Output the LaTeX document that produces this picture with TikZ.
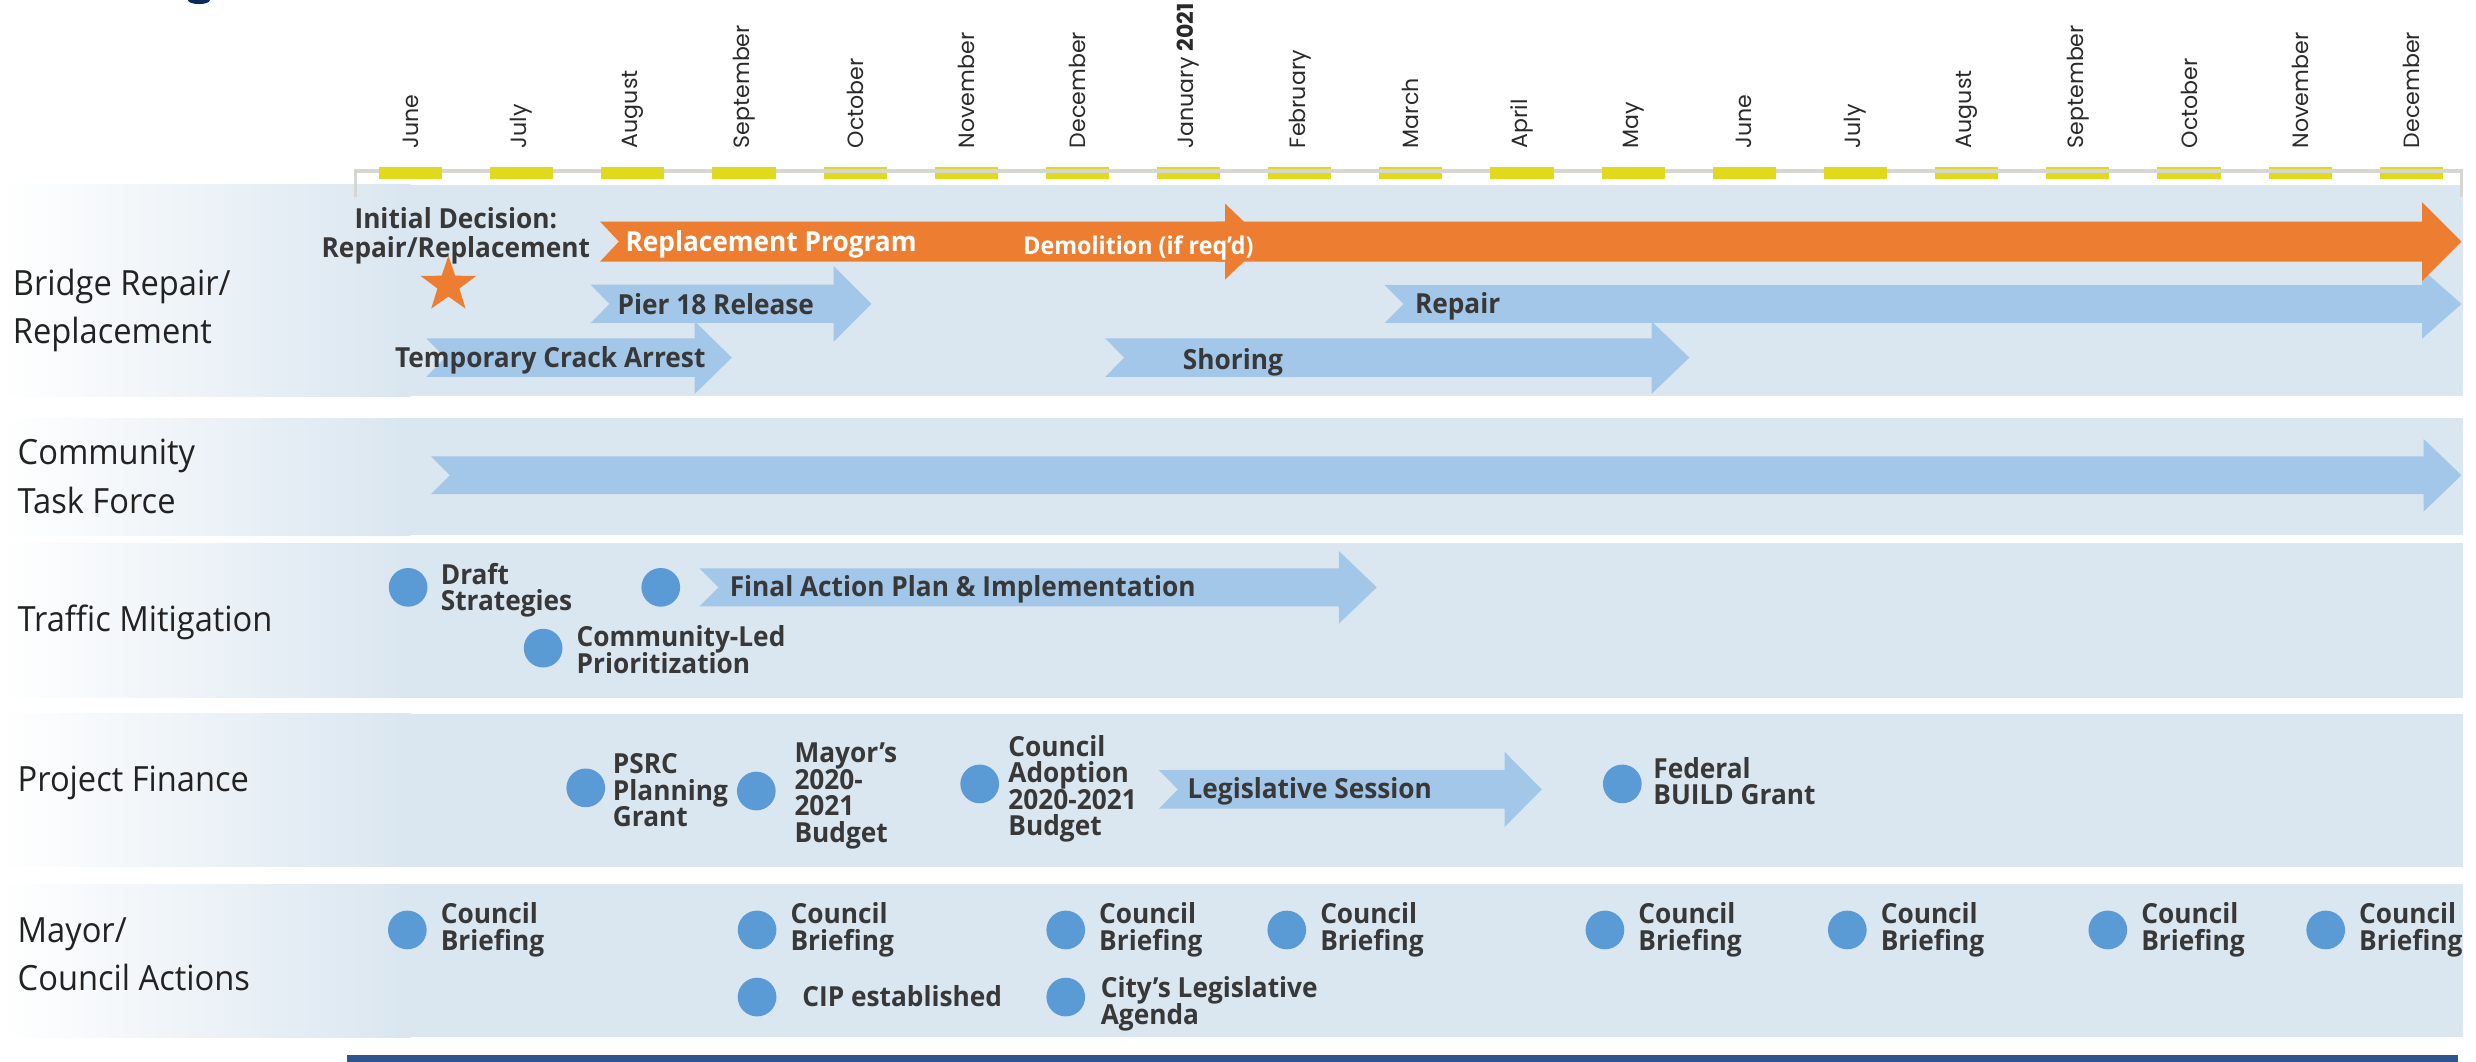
\documentclass[tikz,border=0pt]{standalone}
\usepackage{fontspec}
\setmainfont{Open Sans}
\newfontfamily\rowfont[FakeStretch=0.94]{Open Sans}
\newfontfamily\boldfont[FakeStretch=0.95]{Open Sans}
\newfontfamily\monthfont{Poppins}
\definecolor{panel}{HTML}{DAE6F0}
\definecolor{tlgrey}{HTML}{D6D6D2}
\definecolor{tlyellow}{HTML}{E1D91C}
\definecolor{arrowblue}{HTML}{A3C7E8}
\definecolor{arroworange}{HTML}{ED7D31}
\definecolor{dotblue}{HTML}{5B9BD5}
\definecolor{lbltext}{HTML}{383838}
\definecolor{rowtext}{HTML}{222222}
\definecolor{monthtext}{HTML}{2A2A2A}
\definecolor{barnavy}{HTML}{2F5590}
\definecolor{titlenavy}{HTML}{0B2A5B}
\newcommand\tline[1]{\hbox{#1}}
\newcommand\tstack[1]{\vtop{\lineskiplimit=-100pt\relax #1}}
\newcommand\ctline[1]{\hbox to 0pt{\hss#1\hss}}
% color, xtail, notch, xbase, xtip, ycenter, bodyhalf, headhalf
\newcommand\tlarrow[8]{\fill[#1] (#2,#6-#7) -- (#4,#6-#7) -- (#4,#6-#8) -- (#5,#6) -- (#4,#6+#8) -- (#4,#6+#7) -- (#2,#6+#7) -- (#2+#3,#6) -- cycle;}
\begin{document}
\begin{tikzpicture}[x=1pt,y=-1pt,
  rowlabel/.style={anchor=base west, inner sep=0, text=rowtext,
    font=\rowfont\fontsize{22}{30.5}\selectfont},
  lbl/.style={anchor=base west, inner sep=0, text=lbltext,
    font=\boldfont\bfseries\fontsize{17.5}{16.8}\selectfont},
  wlbl/.style={lbl, text=white},
  dot/.style={circle, fill=dotblue, minimum size=24.5, inner sep=0},
  month/.style={rotate=90, anchor=west, inner sep=0, text=monthtext,
    font=\monthfont\fontsize{14}{14}\selectfont}]
\useasboundingbox (0,0) rectangle (1568.2,672);

% title fragment
\fill[titlenavy] (126,0) ellipse [x radius=7, y radius=2.6];

% panels
\foreach \t/\b in {117/251, 265/339, 344/442, 452/549, 560/657} {
  \shade[left color=white, right color=panel] (0,\t) rectangle (260,\b);
  \fill[panel] (259.5,\t) rectangle (1560,\b);
}
% bottom bar
\fill[barnavy] (220,668) rectangle (1557,673);

% timeline
\foreach \i in {4,...,9,14,15,16,17,18}
  \fill[tlyellow] ({260+70.4*\i-20},105.6) rectangle ({260+70.4*\i+20},113.3);
\draw[tlgrey, line width=2] (225,125) -- (225,108.3) -- (1559,108.3) -- (1559,125);
\foreach \i in {0,1,2,3,10,11,12,13}
  \fill[tlyellow] ({260+70.4*\i-20},105.6) rectangle ({260+70.4*\i+20},113.3);

\foreach \m [count=\i from 0] in {June,July,August,September,October,November,December,{January \textbf{2021}},February,March,April,May,June,July,August,September,October,November,December}
  \node[month] (m\i) at ({260+70.4*\i},94) {\m};

% row labels
\node[rowlabel] (rl1) at (8,187) {\tstack{\tline{Bridge Repair/}\tline{Replacement}}};
\node[rowlabel] (rl2) at (11,294.5) {\tstack{\tline{Community}\tline{Task Force}}};
\node[rowlabel] (rl3) at (11,400) {Traffic Mitigation};
\node[rowlabel] (rl4) at (11,501.5) {Project Finance};
\node[rowlabel] (rl5) at (11,597) {\tstack{\tline{Mayor/}\tline{Council Actions}}};

% ---- Bridge row
\tlarrow{arrowblue}{877}{12}{1534}{1559}{192.5}{12}{22}
\tlarrow{arrowblue}{374}{12}{528}{552}{192.5}{12.2}{24}
\tlarrow{arrowblue}{700}{12}{1046}{1070}{226.5}{12.2}{23}
\tlarrow{arrowblue}{270}{12}{440}{463.5}{226.5}{12.2}{23}
\tlarrow{arroworange}{770}{0}{1534}{1559}{153}{12.7}{25}
\tlarrow{arroworange}{380}{12}{776}{801}{153}{12.7}{24}

\node[lbl, font=\boldfont\bfseries\fontsize{17.5}{18}\selectfont] (initial) at (288,145)
  {\tstack{\ctline{Initial Decision:}\ctline{Repair/Replacement}}};
% decision star
\coordinate (star) at (284,180.5);
\fill[arroworange, shift={(star)}] (270:18.5)
  \foreach \a/\r in {306/7.3,342/18.5,18/7.3,54/18.5,90/7.3,126/18.5,162/7.3,198/18.5,234/7.3} { -- (\a:\r) } -- cycle;
\node[wlbl] (replprog) at (396,159) {Replacement Program};
\node[wlbl, font=\boldfont\bfseries\fontsize{15.5}{16}\selectfont] (demol) at (648,161.5) {Demolition (if req’d)};
\node[lbl] (pier) at (391,199) {Pier 18 Release};
\node[lbl] (repair) at (896,198.5) {Repair};
\node[lbl] (crack) at (250,233) {Temporary Crack Arrest};
\node[lbl] (shoring) at (749,234) {Shoring};

% ---- Community Task Force
\tlarrow{arrowblue}{273}{12}{1535}{1559}{301}{12}{23}

% ---- Traffic Mitigation
\tlarrow{arrowblue}{443}{12}{848}{872}{372}{12}{23}
\node[dot] (d1) at (258.5,372) {};
\node[lbl] (draft) at (279,370) {\tstack{\tline{Draft}\tline{Strategies}}};
\node[dot] (d2) at (418.5,372) {};
\node[lbl] (final) at (462,378) {Final Action Plan \& Implementation};
\node[dot] (d3) at (344,410.5) {};
\node[lbl] (commled) at (365,409.5) {\tstack{\tline{Community-Led}\tline{Prioritization}}};

% ---- Project Finance
\tlarrow{arrowblue}{734}{12}{953}{976.5}{500}{12.2}{23.8}
\node[dot] (p1) at (371,499) {};
\node[lbl] (psrc) at (388,490) {\tstack{\tline{PSRC}\tline{Planning}\tline{Grant}}};
\node[dot] (p2) at (479,501) {};
\node[lbl] (mayorbud) at (503,483) {\tstack{\tline{Mayor’s}\tline{2020-}\tline{2021}\tline{Budget}}};
\node[dot] (p3) at (620.5,496.5) {};
\node[lbl] (adopt) at (638.5,479) {\tstack{\tline{Council}\tline{Adoption}\tline{2020-2021}\tline{Budget}}};
\node[lbl] (legis) at (752,505.5) {Legislative Session};
\node[dot] (p4) at (1027.5,496.5) {};
\node[lbl] (build) at (1047,493) {\tstack{\tline{Federal}\tline{BUILD Grant}}};

% ---- Mayor / Council actions
\foreach \cx [count=\k] in {258,479.5,675,815,1016.5,1170,1335,1473} {
  \node[dot] (c\k) at (\cx,589) {};
  \node[lbl] (cb\k) at (\cx+21,585) {\tstack{\tline{Council}\tline{Briefing}}};
}
\node[dot] (cip) at (479.5,631.5) {};
\node[lbl] (ciptext) at (508,637.7) {CIP established};
\node[dot] (city) at (675,631.5) {};
\node[lbl] (citytext) at (697,632) {\tstack{\tline{City’s Legislative}\tline{Agenda}}};
\end{tikzpicture}
\end{document}
